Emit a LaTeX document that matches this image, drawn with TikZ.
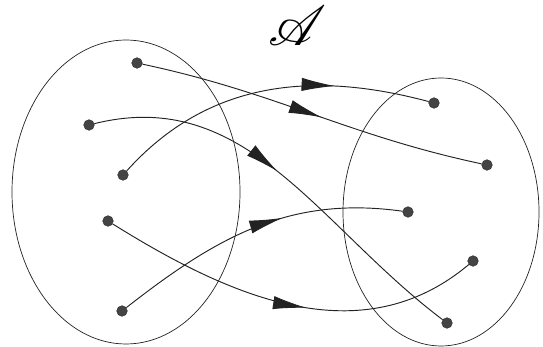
\documentclass[tikz,border=0pt]{standalone}
\usepackage{amsmath,amssymb}
\usepackage{mathrsfs}
\usepackage{graphicx}
\usepackage{tikz}
\usetikzlibrary{arrows.meta,decorations.markings}
\definecolor{Ink}{HTML}{222222}
\definecolor{DotGray}{HTML}{444444}

\begin{document}
\begin{tikzpicture}[
    x=0.03cm,y=0.03cm,
    dot/.style={circle,fill=DotGray,draw=Ink,line width=0.3pt,inner sep=0pt,minimum size=0.32cm},
    setline/.style={draw=Ink,line width=0.6pt},
    link/.style={draw=Ink,line width=0.8pt},
    midarrow/.style={postaction={decorate,decoration={markings,
        mark=at position #1 with {\arrow{Latex[length=1cm,width=0.4cm,fill=Ink]}}}}}
]
\useasboundingbox (0,0) rectangle (543,347);
% the two sets
\draw[setline] (126,155) ellipse [x radius=114,y radius=152];
\draw[setline] (441,135) ellipse [x radius=98,y radius=134];
\node[inner sep=0pt] (title) at (298,321) {\scalebox{4.8}{$\mathscr{A}$}};
% points of the left set
\node[dot] (a1) at (137,284) {};
\node[dot] (a2) at (89,222) {};
\node[dot] (a3) at (123,172) {};
\node[dot] (a4) at (108,126) {};
\node[dot] (a5) at (122,36) {};
% points of the right set
\node[dot] (b1) at (434,244) {};
\node[dot] (b2) at (487,182) {};
\node[dot] (b3) at (408,135) {};
\node[dot] (b4) at (473,86) {};
\node[dot] (b5) at (447,24) {};
% the map
\draw[link,midarrow=0.53] (a1) to[out=-12,in=168] (b2);
\draw[link,midarrow=0.47] (a2) to[out=14,in=143] (b5);
\draw[link,midarrow=0.71] (a3) to[out=48,in=165] (b1);
\draw[link,midarrow=0.55] (a4) to[out=-32,in=-140] (b4);
\draw[link,midarrow=0.6] (a5) to[out=38,in=172] (b3);
\end{tikzpicture}
\end{document}
